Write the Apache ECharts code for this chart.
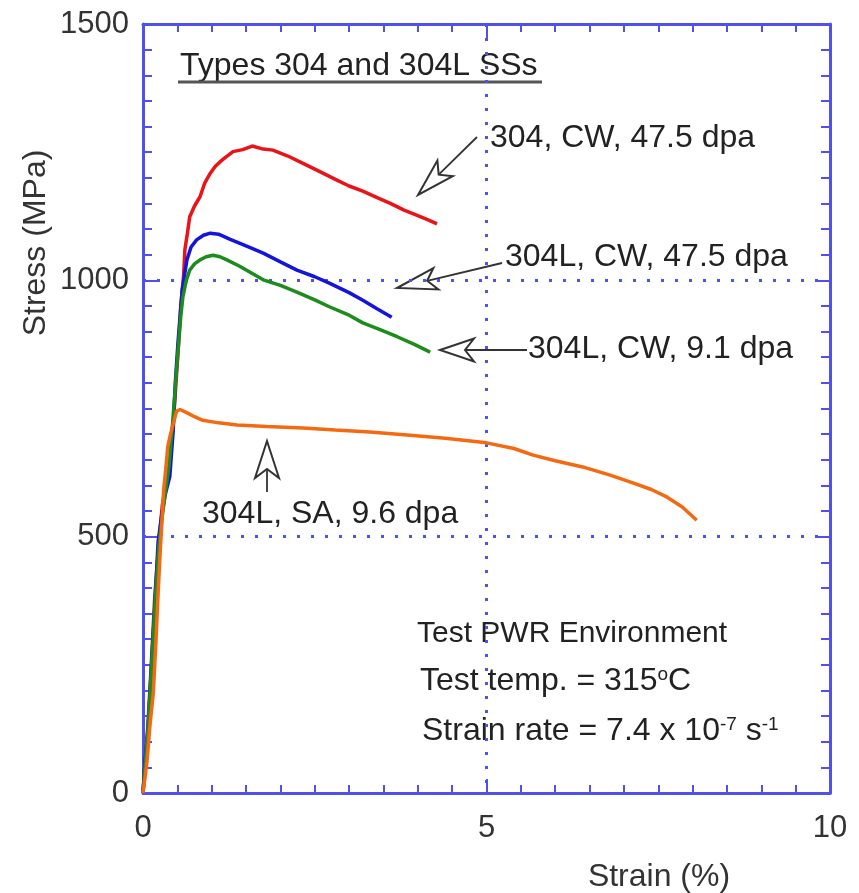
<!DOCTYPE html>
<html>
<head>
<meta charset="utf-8">
<script src="https://cdn.jsdelivr.net/npm/echarts@6/dist/echarts.min.js"></script>
<style>
  html, body { margin: 0; padding: 0; background: #fff; }
  #chart { width: 859px; height: 893px; }
</style>
</head>
<body>
<div id="chart"></div>
<script>
// strain (%) / stress (MPa)
const redStrain = [0, 0.03, 0.07, 0.12, 0.17, 0.22, 0.28, 0.33, 0.39, 0.44, 0.48, 0.52, 0.55, 0.59, 0.61, 0.65, 0.68, 0.75, 0.83, 0.9, 0.98, 1.05, 1.12, 1.2, 1.31, 1.45, 1.59, 1.75, 1.89, 2.1, 2.3, 2.53, 2.8, 3.0, 3.2, 3.4, 3.6, 3.8, 4.0, 4.15, 4.28]
const redStress = [0, 60, 130, 250, 380, 470, 560, 600, 640, 720, 800, 880, 950, 1007, 1060, 1095, 1124, 1145, 1163, 1190, 1209, 1222, 1231, 1240, 1251, 1255, 1262, 1256, 1254, 1243, 1230, 1215, 1197, 1184, 1174, 1162, 1150, 1137, 1126, 1118, 1110]

const blueStrain = [0, 0.03, 0.07, 0.12, 0.17, 0.22, 0.27, 0.32, 0.39, 0.44, 0.47, 0.51, 0.54, 0.57, 0.64, 0.7, 0.78, 0.88, 0.98, 1.1, 1.27, 1.5, 1.75, 2.0, 2.24, 2.5, 2.72, 3.0, 3.2, 3.4, 3.62]
const blueStress = [0, 64, 117, 240, 360, 490, 540, 580, 617, 708, 800, 880, 930, 981, 1040, 1065, 1079, 1088, 1092, 1090, 1080, 1067, 1053, 1036, 1020, 1007, 994, 976, 961, 945, 928]

const greenStrain = [0, 0.04, 0.08, 0.13, 0.18, 0.23, 0.28, 0.33, 0.38, 0.43, 0.48, 0.52, 0.55, 0.58, 0.63, 0.68, 0.75, 0.83, 0.92, 1.02, 1.12, 1.22, 1.4, 1.75, 2.0, 2.24, 2.5, 2.72, 3.0, 3.2, 3.45, 3.7, 3.95, 4.18]
const greenStress = [0, 70, 140, 260, 380, 480, 540, 590, 640, 720, 810, 880, 930, 967, 1000, 1020, 1032, 1040, 1046, 1049, 1046, 1040, 1028, 1001, 990, 977, 962, 948, 932, 917, 904, 890, 875, 860]

const orangeStrain = [0, 0.03, 0.06, 0.1, 0.15, 0.19, 0.22, 0.25, 0.28, 0.3, 0.33, 0.36, 0.4, 0.45, 0.49, 0.54, 0.65, 0.75, 0.87, 1.1, 1.37, 1.8, 2.33, 2.8, 3.3, 3.89, 4.4, 5.0, 5.4, 5.68, 6.0, 6.4, 6.8, 7.13, 7.4, 7.63, 7.85, 8.06]
const orangeStress = [0, 30, 64, 130, 195, 300, 390, 470, 540, 590, 630, 675, 700, 725, 745, 748, 741, 734, 727, 722, 718, 715, 712, 708, 704, 698, 692, 683, 672, 659, 648, 636, 620, 605, 592, 577, 558, 532]

const xTicks = [0, 5, 10]
const yTicks = [0, 500, 1000, 1500]

const axisBlue = '#5050ec'
const font = 'Liberation Sans'

function pairs(xs, ys) {
  return xs.map((x, i) => [x, ys[i]])
}

// open dart-shaped arrowhead + shaft, pixel positions
function arrow(x1, y1, x2, y2, len, wid) {
  let dx = x2 - x1, dy = y2 - y1
  let d = Math.sqrt(dx * dx + dy * dy)
  let ux = dx / d, uy = dy / d
  let nx = -uy, ny = ux
  let bx = x2 - ux * len, by = y2 - uy * len
  let notch = [x2 - ux * (len - 9), y2 - uy * (len - 9)]
  return [
    {
      type: 'line',
      shape: { x1: x1, y1: y1, x2: notch[0], y2: notch[1] },
      style: { stroke: '#333', lineWidth: 1.8 },
    },
    {
      type: 'polygon',
      shape: {
        points: [
          [x2, y2],
          [bx + nx * wid / 2, by + ny * wid / 2],
          notch,
          [bx - nx * wid / 2, by - ny * wid / 2],
        ],
      },
      style: { fill: '#fff', stroke: '#333', lineWidth: 2 },
    },
  ]
}

function label(text, x, y, size, extra) {
  return {
    type: 'text',
    x: x,
    y: y,
    style: Object.assign({
      text: text,
      fill: '#222',
      font: size + 'px "' + font + '"',
      align: 'left',
      verticalAlign: 'middle',
    }, extra || {}),
  }
}

let sup = { s: { fontSize: 19, fontFamily: font, fill: '#222', verticalAlign: 'top', lineHeight: 32 } }

let mychart = echarts.init(document.getElementById('chart'))

let tickLabel = { fontSize: 31, fontFamily: font, color: '#333' }
let dotted = { color: axisBlue, width: 3, type: [3, 11] }

let option = {
  backgroundColor: '#fff',
  animation: false,
  grid: { left: 143, right: 29, top: 24, bottom: 100, outerBoundsMode: 'none' },
  xAxis: [
    {
      type: 'value', min: 0, max: 10, interval: 5,
      axisLine: { onZero: false, lineStyle: { color: axisBlue, width: 3 } },
      axisTick: { inside: true, length: 14, lineStyle: { color: axisBlue, width: 2 } },
      minorTick: { show: true, splitNumber: 10, length: 8, lineStyle: { color: axisBlue, width: 2 } },
      axisLabel: Object.assign({ margin: 20, formatter: (v) => xTicks.includes(v) ? String(v) : '' }, tickLabel),
      splitLine: { show: true, lineStyle: dotted },
    },
    {
      type: 'value', min: 0, max: 10, interval: 5, position: 'top',
      axisLine: { onZero: false, lineStyle: { color: axisBlue, width: 3 } },
      axisTick: { inside: true, length: 14, lineStyle: { color: axisBlue, width: 2 } },
      minorTick: { show: true, splitNumber: 10, length: 8, lineStyle: { color: axisBlue, width: 2 } },
      axisLabel: { show: false },
      splitLine: { show: false },
    },
  ],
  yAxis: [
    {
      type: 'value', min: 0, max: 1500, interval: 500,
      axisLine: { show: true, onZero: false, lineStyle: { color: axisBlue, width: 3 } },
      axisTick: { show: true, inside: true, length: 14, lineStyle: { color: axisBlue, width: 2 } },
      minorTick: { show: true, splitNumber: 10, length: 9, lineStyle: { color: axisBlue, width: 2 } },
      axisLabel: Object.assign({ margin: 14, formatter: (v) => yTicks.includes(v) ? String(v) : '' }, tickLabel),
      splitLine: { show: true, lineStyle: dotted },
    },
    {
      type: 'value', min: 0, max: 1500, interval: 500, position: 'right',
      axisLine: { show: true, onZero: false, lineStyle: { color: axisBlue, width: 3 } },
      axisTick: { show: true, inside: true, length: 14, lineStyle: { color: axisBlue, width: 2 } },
      minorTick: { show: true, splitNumber: 10, length: 9, lineStyle: { color: axisBlue, width: 2 } },
      axisLabel: { show: false },
      splitLine: { show: false },
    },
  ],
  series: [
    { name: '304, CW, 47.5 dpa', type: 'line', showSymbol: false, data: pairs(redStrain, redStress), lineStyle: { color: '#e81418', width: 3.5 }, z: 3 },
    { name: '304L, CW, 47.5 dpa', type: 'line', showSymbol: false, data: pairs(blueStrain, blueStress), lineStyle: { color: '#1414dc', width: 3.5 }, z: 4 },
    { name: '304L, CW, 9.1 dpa', type: 'line', showSymbol: false, data: pairs(greenStrain, greenStress), lineStyle: { color: '#1c8c1c', width: 3.5 }, z: 4 },
    { name: '304L, SA, 9.6 dpa', type: 'line', showSymbol: false, data: pairs(orangeStrain, orangeStress), lineStyle: { color: '#f46a12', width: 3.5 }, z: 5 },
  ],
  graphic: [].concat(
    [
      label('Types 304 and 304L SSs', 180, 66, 32),
      {
        type: 'line',
        shape: { x1: 178, y1: 82, x2: 542, y2: 82 },
        style: { stroke: '#555', lineWidth: 3 },
      },
      label('304, CW, 47.5 dpa', 490, 138, 32),
      label('304L, CW, 47.5 dpa', 505, 257, 32),
      label('304L, CW, 9.1 dpa', 528, 349, 32),
      label('304L, SA, 9.6 dpa', 202, 514, 32),
      label('Test PWR Environment', 417, 634, 30),
      label('Test temp. = 315{s|o}C', 420, 681, 32, { rich: sup }),
      label('Strain rate = 7.4 x 10{s|-7} s{s|-1}', 422, 731, 32, { rich: sup }),
      {
        type: 'text',
        x: 36,
        y: 243,
        rotation: Math.PI / 2,
        style: { text: 'Stress (MPa)', fill: '#333', font: '32px "' + font + '"', align: 'center', verticalAlign: 'middle' },
      },
      {
        type: 'text',
        x: 659,
        y: 877,
        style: { text: 'Strain (%)', fill: '#333', font: '32px "' + font + '"', align: 'center', verticalAlign: 'middle' },
      },
    ],
    arrow(477, 137, 418, 195, 38, 22),
    arrow(502, 263, 397, 288, 40, 22),
    arrow(527, 350, 440, 350, 34, 23),
    arrow(267, 492, 267, 441, 37, 24)
  ),
}

mychart.setOption(option)
window.addEventListener('resize', () => {
  mychart.resize()
})
</script>
</body>
</html>
